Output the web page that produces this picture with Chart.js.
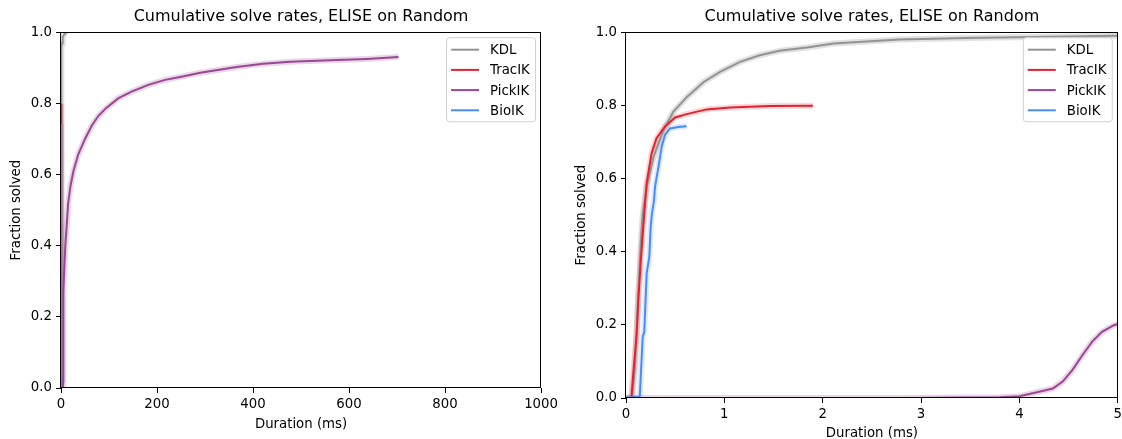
<!DOCTYPE html>
<html>
<head>
<meta charset="utf-8">
<script src="https://cdn.jsdelivr.net/npm/chart.js@4.4.1/dist/chart.umd.min.js"></script>
<style>
  html, body { margin: 0; padding: 0; background: #fff; }
  body { width: 1122px; height: 439px; position: relative; overflow: hidden; }
  .panel { position: absolute; top: 0; height: 439px; }
  canvas { display: block; }
</style>
</head>
<body>
<div class="panel" style="left:0px;width:562px;"><canvas id="left" width="562" height="439"></canvas></div>
<div class="panel" style="left:565px;width:561px;"><canvas id="right" width="561" height="439"></canvas></div>
<script>
// ---- Data (durations in ms, cumulative fraction solved) ----
const seriesNames = ['KDL', 'TracIK', 'PickIK', 'BioIK'];
const seriesColors = ['#939393', '#e5202f', '#9a4794', '#4a8cf7'];
const haloColors = ['rgba(147,147,147,0.28)', 'rgba(229,32,47,0.18)', 'rgba(154,71,148,0.22)', 'rgba(74,140,247,0.18)'];

const kdlMs   = [0, 0.06, 0.09, 0.12, 0.15, 0.17, 0.21, 0.28, 0.38, 0.48, 0.62, 0.79, 0.96, 1.16, 1.36, 1.56, 1.84, 2.11, 2.78, 3.46, 4.14, 5.0, 7.0, 9.0, 12.0];
const kdlFrac = [0, 0, 0.08, 0.25, 0.42, 0.50, 0.577, 0.659, 0.732, 0.782, 0.823, 0.864, 0.892, 0.919, 0.937, 0.949, 0.958, 0.969, 0.980, 0.984, 0.987, 0.990, 0.994, 0.997, 1.0];

const tracMs   = [0, 0.055, 0.074, 0.109, 0.125, 0.149, 0.176, 0.21, 0.26, 0.31, 0.396, 0.50, 0.617, 0.82, 1.06, 1.46, 1.90];
const tracFrac = [0, 0, 0.067, 0.177, 0.268, 0.37, 0.47, 0.587, 0.669, 0.71, 0.742, 0.767, 0.776, 0.789, 0.794, 0.798, 0.799];

const pickMs   = [0, 2.78, 3.8, 4.0, 4.2, 4.34, 4.44, 4.54, 4.64, 4.74, 4.84, 4.96, 6, 7, 9, 12, 15, 20, 26, 36, 50, 64, 78, 95, 119, 147, 182, 217, 251, 290, 366, 421, 477, 560, 637, 703];
const pickFrac = [0, 0, 0.002, 0.005, 0.017, 0.026, 0.045, 0.077, 0.117, 0.154, 0.181, 0.199, 0.27, 0.34, 0.40, 0.46, 0.52, 0.57, 0.61, 0.657, 0.70, 0.737, 0.765, 0.788, 0.814, 0.833, 0.852, 0.866, 0.875, 0.886, 0.902, 0.911, 0.917, 0.921, 0.925, 0.930];

const bioMs   = [0, 0.14, 0.16, 0.17, 0.186, 0.203, 0.21, 0.237, 0.251, 0.264, 0.285, 0.295, 0.33, 0.363, 0.396, 0.447, 0.53, 0.617];
const bioFrac = [0, 0.004, 0.113, 0.167, 0.181, 0.295, 0.341, 0.386, 0.468, 0.505, 0.54, 0.577, 0.632, 0.687, 0.719, 0.737, 0.741, 0.743];

const yTicks = [0, 0.2, 0.4, 0.6, 0.8, 1.0];
const leftXTicks = [0, 200, 400, 600, 800, 1000];
const rightXTicks = [0, 1, 2, 3, 4, 5];
const titleText = 'Cumulative solve rates, ELISE on Random';
const xTitleText = 'Duration (ms)';
const yTitleText = 'Fraction solved';

const seriesMs = [kdlMs, tracMs, pickMs, bioMs];
const seriesFrac = [kdlFrac, tracFrac, pickFrac, bioFrac];

// ---- Build ----
Chart.defaults.font.family = "'DejaVu Sans', sans-serif";
Chart.defaults.color = '#000';

function points(i) {
  return seriesMs[i].map((x, k) => ({ x: x, y: seriesFrac[i][k] }));
}

function buildDatasets() {
  const ds = [];
  seriesNames.forEach((n, i) => {
    ds.push({ label: n + ' band', data: points(i), borderColor: haloColors[i], borderWidth: 6,
      pointRadius: 0, tension: 0, fill: false, order: 20 - i });
  });
  seriesNames.forEach((n, i) => {
    ds.push({ label: n, data: points(i), borderColor: seriesColors[i], borderWidth: 2,
      pointRadius: 0, tension: 0, fill: false, order: 10 - i });
  });
  return ds;
}

const framePlugin = {
  id: 'frame',
  afterDatasetsDraw(chart) {
    const { ctx, chartArea: ca } = chart;
    ctx.save();
    ctx.strokeStyle = '#000';
    ctx.lineWidth = 1;
    const l = Math.round(ca.left) - 0.5, t = Math.round(ca.top) + 0.5;
    const r = Math.round(ca.right) - 0.5, b = Math.round(ca.bottom) - 0.5;
    ctx.strokeRect(l, t, r - l, b - t);
    ctx.restore();
  },
  afterDraw(chart) {
    const { ctx, chartArea: ca } = chart;
    const w = 89, h = 84;
    const x = ca.right - 6 - w, y = ca.top + 5;
    ctx.save();
    ctx.beginPath();
    ctx.roundRect(x + 0.5, y + 0.5, w, h, 3);
    ctx.fillStyle = 'rgba(255,255,255,0.8)';
    ctx.fill();
    ctx.strokeStyle = '#d0d0d0';
    ctx.lineWidth = 1;
    ctx.stroke();
    ctx.font = "13.3px 'DejaVu Sans', sans-serif";
    ctx.textBaseline = 'middle';
    ctx.textAlign = 'left';
    seriesNames.forEach((n, i) => {
      const ry = y + 12.5 + i * 20.2;
      ctx.beginPath();
      ctx.strokeStyle = seriesColors[i];
      ctx.lineWidth = 2;
      ctx.moveTo(x + 5, ry);
      ctx.lineTo(x + 33, ry);
      ctx.stroke();
      ctx.fillStyle = '#000';
      ctx.fillText(n, x + 44, ry + 1);
    });
    ctx.restore();
  }
};

function makeChart(id, xTicks, xAxisHeight, xTitlePad) {
  const xMin = xTicks[0], xMax = xTicks[xTicks.length - 1];
  return new Chart(document.getElementById(id), {
    type: 'line',
    data: { datasets: buildDatasets() },
    options: {
      responsive: false,
      animation: false,
      devicePixelRatio: 1,
      layout: { padding: 0 },
      plugins: {
        legend: { display: false },
        tooltip: { enabled: false },
        title: {
          display: true, text: titleText, fullSize: false,
          font: { size: 16, weight: 'normal' }, color: '#000',
          padding: { top: 7, bottom: 6 }
        }
      },
      scales: {
        x: {
          type: 'linear', min: xMin, max: xMax,
          afterBuildTicks: s => { s.ticks = xTicks.map(v => ({ value: v })); },
          afterFit: s => { s.height = xAxisHeight; },
          ticks: { font: { size: 13.3 }, color: '#000', padding: 4, maxRotation: 0,
            callback: v => String(v) },
          grid: { drawOnChartArea: false, drawTicks: true, tickLength: 5, color: '#000', lineWidth: 1 },
          border: { display: false },
          title: { display: true, text: xTitleText, font: { size: 13.3 }, color: '#000',
            padding: { top: 0, bottom: xTitlePad } }
        },
        y: {
          type: 'linear', min: 0, max: 1,
          afterBuildTicks: s => { s.ticks = yTicks.map(v => ({ value: v })); },
          afterFit: s => { s.width = 61; },
          ticks: { font: { size: 13.3 }, color: '#000', padding: 4,
            callback: v => Number(v).toFixed(1) },
          grid: { drawOnChartArea: false, drawTicks: true, tickLength: 5, color: '#000', lineWidth: 1 },
          border: { display: false },
          title: { display: true, text: yTitleText, font: { size: 13.3 }, color: '#000',
            padding: { top: 9, bottom: 0 } }
        }
      }
    },
    plugins: [framePlugin]
  });
}

makeChart('left', leftXTicks, 51, 6);
makeChart('right', rightXTicks, 41, -3);
</script>
</body>
</html>
